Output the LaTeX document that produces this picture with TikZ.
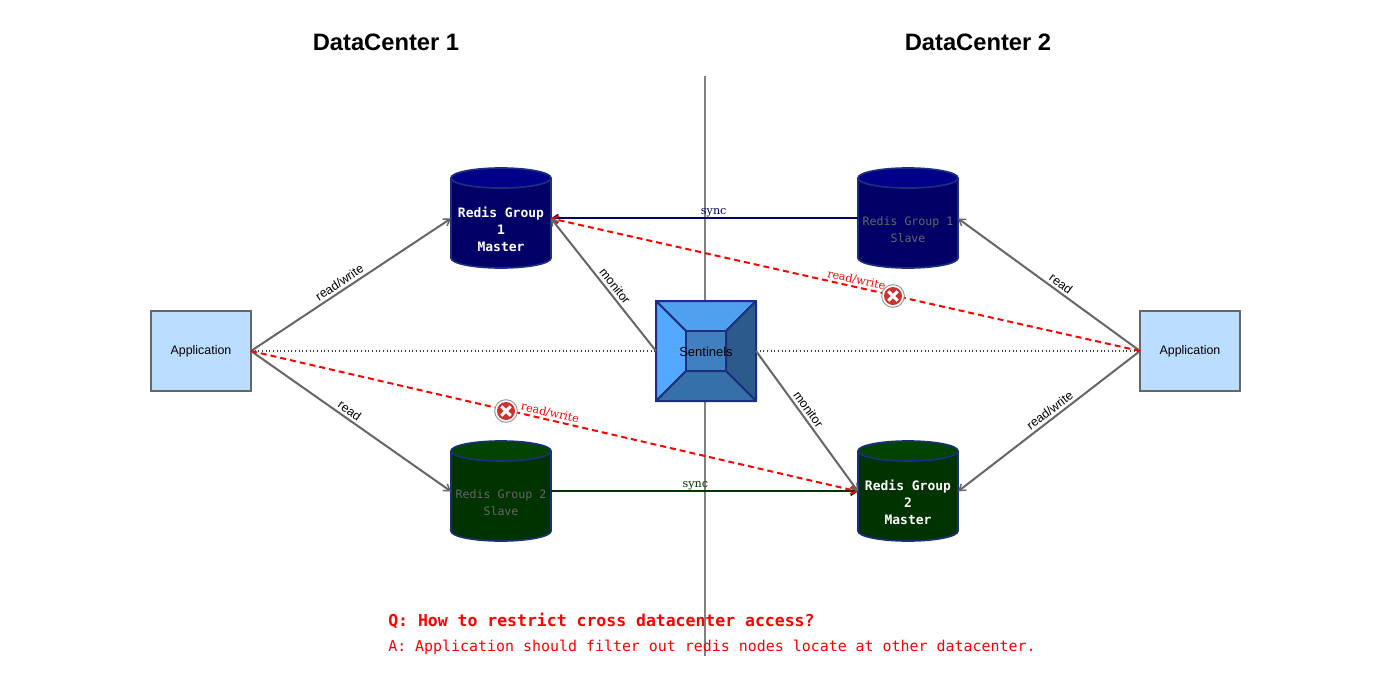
\documentclass[tikz,border=0pt]{standalone}
\usepackage{fontspec}
\setmainfont{Liberation Sans}
\newfontfamily\monofont{DejaVu Sans Mono}
\newfontfamily\linkfont{DejaVu Serif}
\usetikzlibrary{arrows.meta,shapes.geometric}

\definecolor{linegray}{HTML}{666666}
\definecolor{appblue}{HTML}{BBDDFF}
\definecolor{edgeblue}{HTML}{1B2F7E}
\definecolor{navybody}{HTML}{000066}
\definecolor{navytop}{HTML}{000088}
\definecolor{greenbody}{HTML}{003300}
\definecolor{greentop}{HTML}{004400}
\definecolor{facetop}{RGB}{80,160,240}
\definecolor{faceleft}{RGB}{85,168,255}
\definecolor{faceright}{RGB}{44,90,138}
\definecolor{facebottom}{RGB}{53,112,166}
\definecolor{faceinner}{RGB}{64,128,192}
\definecolor{errred}{RGB}{204,51,51}

% keeps the cylinder ends open when the node holds no text of its own
\newcommand{\cylpad}{\phantom{\rule{64pt}{30pt}}}

\tikzset{
  title/.style={font=\bfseries\fontsize{17.8}{22}\selectfont},
  app/.style={draw=linegray,line width=1.5pt,fill=appblue,minimum width=75pt,minimum height=60pt,inner sep=0pt,outer sep=0pt,font=\fontsize{9.3}{11}\selectfont},
  redis/.style={cylinder,shape border rotate=90,aspect=0.235,draw=edgeblue,line width=1.25pt,cylinder uses custom fill,minimum width=75pt,minimum height=75pt,inner sep=0pt,outer sep=0pt,anchor=shape center},
  mastertext/.style={text=white,align=center,inner sep=0pt,font=\monofont\bfseries\fontsize{9.75}{12.75}\selectfont},
  slavetext/.style={text=linegray,align=center,inner sep=0pt,font=\monofont\fontsize{8.7}{12.75}\selectfont},
  navy/.style={cylinder body fill=navybody,cylinder end fill=navytop},
  forest/.style={cylinder body fill=greenbody,cylinder end fill=greentop},
  tip/.style={-{Straight Barb[length=4.5pt,width=6pt,line width=1.1pt]}},
  link/.style={draw=linegray,line width=1.5pt,tip},
  sync/.style={line width=1.5pt,tip},
  cross/.style={draw=red,line width=1.5pt,dash pattern=on 4.5pt off 3pt,tip},
  dots/.style={draw=black!75,line width=0.85pt,dash pattern=on 0.85pt off 1.9pt},
  face/.style={draw=edgeblue,line width=1.5pt,line join=round},
  tag/.style={sloped,above,inner sep=2pt,text=black,font=\fontsize{9.3}{11}\selectfont},
  linktag/.style={sloped,above,inner sep=1pt,font=\linkfont\fontsize{8.4}{10}\selectfont},
  errmark/.style={circle,draw=black!40,line width=0.75pt,fill=white,minimum size=17pt,inner sep=0pt,
    path picture={
      \fill[errred] (path picture bounding box.center) circle (6.75pt);
      \draw[white,line width=2.25pt] ([shift={(-3.5pt,-3.5pt)}]path picture bounding box.center) -- ([shift={(3.5pt,3.5pt)}]path picture bounding box.center);
      \draw[white,line width=2.25pt] ([shift={(-3.5pt,3.5pt)}]path picture bounding box.center) -- ([shift={(3.5pt,-3.5pt)}]path picture bounding box.center);
    }},
}

\begin{document}
\begin{tikzpicture}[x=0.75pt,y=-0.75pt]
  \useasboundingbox (0,0) rectangle (1400,700);

  \draw (386,42) node[title] (dc1) {DataCenter 1};
  \draw (978,42) node[title] (dc2) {DataCenter 2};

  \coordinate (divtop) at (705,76);
  \coordinate (divbot) at (705,656);
  \draw[gray,line width=1.5pt] (divtop) -- (divbot);

  \draw (201,351) node[app] (app1) {Application};
  \draw (1190,351) node[app] (app2) {Application};

  \draw (501,218) node[redis,navy] (master1) {\cylpad};
  \draw (908,218) node[redis,navy] (slave1) {\cylpad};
  \draw (501,491) node[redis,forest] (slave2) {\cylpad};
  \draw (908,491) node[redis,forest] (master2) {\cylpad};
  \draw (501,229) node[mastertext] (master1text) {Redis Group\\1\\Master};
  \draw (908,229.5) node[slavetext] (slave1text) {Redis Group 1\\Slave};
  \draw (501,502.5) node[slavetext] (slave2text) {Redis Group 2\\Slave};
  \draw (908,502) node[mastertext] (master2text) {Redis Group\\2\\Master};

  \draw (706,351) node[draw=edgeblue,line width=1.5pt,minimum size=75pt,inner sep=0pt,outer sep=0pt] (sentinel) {};

  % dotted line between the two applications
  \path (app1.east) edge[dots] (sentinel.west);
  \path (sentinel.east) edge[dots] (app2.west);

  % sentinel faces
  \coordinate (innernw) at (686,331);
  \coordinate (innerne) at (726,331);
  \coordinate (innerse) at (726,371);
  \coordinate (innersw) at (686,371);
  \filldraw[face,fill=facetop] (sentinel.north west) -- (sentinel.north east) -- (innerne) -- (innernw) -- cycle;
  \filldraw[face,fill=faceleft] (sentinel.north west) -- (innernw) -- (innersw) -- (sentinel.south west) -- cycle;
  \filldraw[face,fill=faceright] (sentinel.north east) -- (sentinel.south east) -- (innerse) -- (innerne) -- cycle;
  \filldraw[face,fill=facebottom] (sentinel.south west) -- (innersw) -- (innerse) -- (sentinel.south east) -- cycle;
  \filldraw[face,fill=faceinner] (innernw) rectangle (innerse);
  \draw (706,352) node[font=\fontsize{9.75}{11}\selectfont] (sentinellabel) {Sentinels};

  % the cylinder anchors sit 5px under the middle of the body, hence the yshift
  \path (app1.east) edge[link] node[tag,pos=0.465] {read/write} ([yshift=3.75pt]master1.180);
  \path (app1.east) edge[link] node[tag,pos=0.47] {read} ([yshift=3.75pt]slave2.180);
  \path (app2.west) edge[link] node[tag,pos=0.46] {read} ([yshift=3.75pt]slave1.0);
  \path (app2.west) edge[link] node[tag,pos=0.468] {read/write} ([yshift=3.75pt]master2.0);

  \path ([yshift=3.75pt]slave1.180) edge[sync,draw=navybody] node[linktag,inner sep=0pt,text=navybody,pos=0.47] {sync} ([yshift=3.75pt]master1.0);
  \path ([yshift=3.75pt]slave2.0) edge[sync,draw=greenbody] node[linktag,inner sep=0pt,text=greenbody,pos=0.47] {sync} ([yshift=3.75pt]master2.180);

  \path (app2.west) edge[cross] node[linktag,text=red,pos=0.484] {read/write} ([yshift=3.75pt]master1.0);
  \path (app1.east) edge[cross] node[linktag,text=red,pos=0.49] {read/write} ([yshift=3.75pt]master2.180);

  \path (sentinel.west) edge[link] node[tag,pos=0.45] {monitor} ([yshift=3.75pt]master1.0);
  \path (sentinel.east) edge[link] node[tag,pos=0.45] {monitor} ([yshift=3.75pt]master2.180);

  \draw (893,296) node[errmark] (err1) {};
  \draw (506,411) node[errmark] (err2) {};

  \draw (388,620.5) node[anchor=west,inner sep=0pt,text=red,font=\monofont\bfseries\fontsize{12.35}{15}\selectfont] (question) {Q: How to restrict cross datacenter access?};
  \draw (388,647) node[anchor=west,inner sep=0pt,text=red,font=\monofont\fontsize{11.2}{14}\selectfont] (answer) {A: Application should filter out redis nodes locate at other datacenter.};
\end{tikzpicture}
\end{document}
